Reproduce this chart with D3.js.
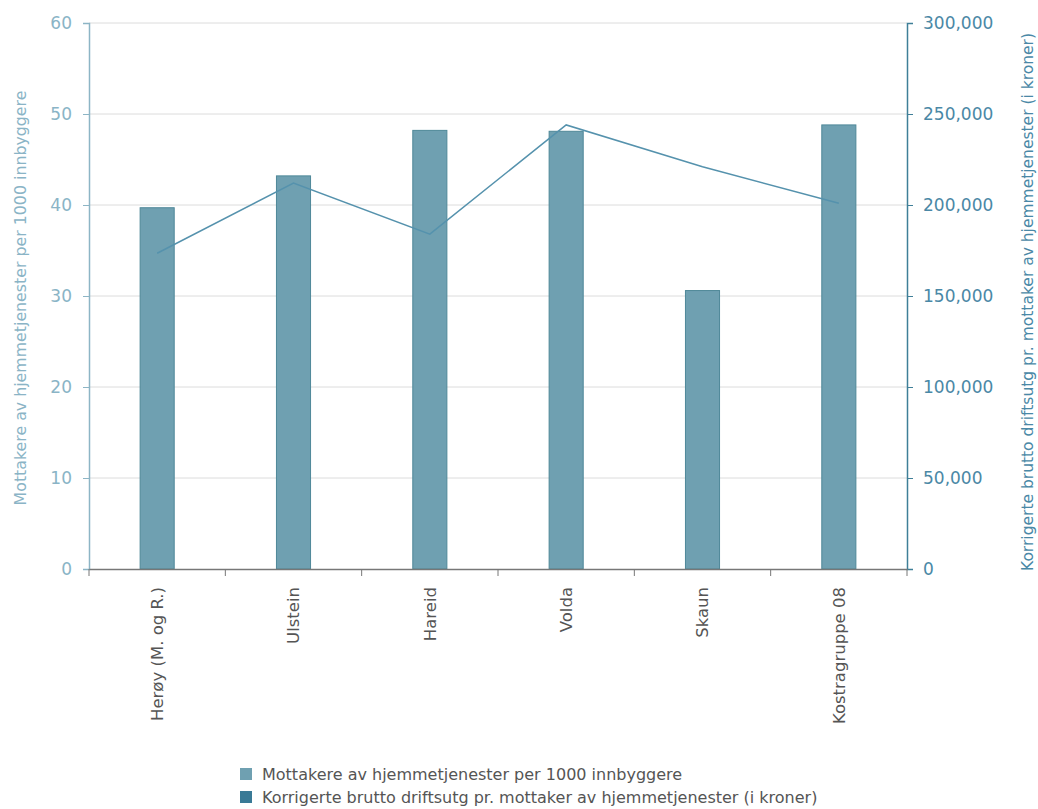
<!DOCTYPE html>
<html>
<head>
<meta charset="utf-8">
<script src="https://cdn.jsdelivr.net/npm/d3@7"></script>
<style>
  body { margin: 0; background: #fff; }
  svg { font-family: "DejaVu Sans", Verdana, sans-serif; }
</style>
</head>
<body>
<div id="chart"></div>
<script>
const categories = ['Herøy (M. og R.)', 'Ulstein', 'Hareid', 'Volda', 'Skaun', 'Kostragruppe 08'];
const mottakere = [39.7, 43.2, 48.2, 48.1, 30.6, 48.8];
const utgifter = [173500, 212000, 184000, 244000, 221000, 201000];
const leftTicks = [0, 10, 20, 30, 40, 50, 60];
const rightTicks = [0, 50000, 100000, 150000, 200000, 250000, 300000];
const seriesNames = [
  'Mottakere av hjemmetjenester per 1000 innbyggere',
  'Korrigerte brutto driftsutg pr. mottaker av hjemmetjenester (i kroner)'
];

const width = 1038, height = 809;
const margin = { left: 89, right: 131, top: 23, bottom: 240 };
const plotW = width - margin.left - margin.right;
const plotH = height - margin.top - margin.bottom;

const svg = d3.select('#chart').append('svg')
  .attr('width', width)
  .attr('height', height);

const g = svg.append('g').attr('transform', `translate(${margin.left},${margin.top})`);

const x = d3.scaleBand().domain(categories).range([0, plotW]);
const yL = d3.scaleLinear().domain([0, 60]).range([plotH, 0]);
const yR = d3.scaleLinear().domain([0, 300000]).range([plotH, 0]);

// gridlines
g.append('g').selectAll('line')
  .data(leftTicks.slice(1))
  .join('line')
    .attr('x1', 0).attr('x2', plotW)
    .attr('y1', d => yL(d)).attr('y2', d => yL(d))
    .attr('stroke', '#dcdcdc').attr('stroke-width', 1);

// bars
const barW = x.bandwidth() * 0.25;
g.append('g').selectAll('rect')
  .data(mottakere)
  .join('rect')
    .attr('x', (d, i) => x(categories[i]) + x.bandwidth() / 2 - barW / 2)
    .attr('y', d => yL(d))
    .attr('width', barW)
    .attr('height', d => plotH - yL(d))
    .attr('fill', '#6fa0b1')
    .attr('stroke', '#4f8898')
    .attr('stroke-width', 1);

// line
const line = d3.line()
  .x((d, i) => x(categories[i]) + x.bandwidth() / 2)
  .y(d => yR(d));
g.append('path')
  .datum(utgifter)
  .attr('d', line)
  .attr('fill', 'none')
  .attr('stroke', '#5592ad')
  .attr('stroke-width', 1.5);

// left axis
const leftAxis = g.append('g')
  .call(d3.axisLeft(yL).tickValues(leftTicks).tickSize(6).tickPadding(11))
  .attr('font-family', null);
leftAxis.select('.domain').attr('stroke', '#8db5c5').attr('stroke-width', 1.5);
leftAxis.selectAll('.tick line').attr('stroke', '#8db5c5');
leftAxis.selectAll('.tick text')
  .attr('fill', '#8ab4c6').style('font-size', '17px');

// right axis
const rightAxis = g.append('g')
  .attr('transform', `translate(${plotW},0)`)
  .call(d3.axisRight(yR).tickValues(rightTicks).tickSize(6).tickPadding(10).tickFormat(d3.format(',')))
  .attr('font-family', null);
rightAxis.select('.domain').attr('stroke', '#3f7f98').attr('stroke-width', 1.5);
rightAxis.selectAll('.tick line').attr('stroke', '#3f7f98');
rightAxis.selectAll('.tick text')
  .attr('fill', '#4a88a6').style('font-size', '17px');

// bottom axis
const bottomAxis = g.append('g')
  .attr('transform', `translate(0,${plotH})`)
  .call(d3.axisBottom(x).tickSize(0).tickSizeOuter(0))
  .attr('font-family', null);
bottomAxis.select('.domain').attr('stroke', '#777').attr('stroke-width', 1.5);
bottomAxis.selectAll('.tick text')
  .attr('fill', '#555')
  .style('font-size', '16.5px')
  .attr('transform', 'rotate(-90)')
  .attr('text-anchor', 'end')
  .attr('x', -18)
  .attr('y', 0)
  .attr('dy', '0.35em');
// category separator ticks
g.append('g').selectAll('line')
  .data(d3.range(categories.length + 1))
  .join('line')
    .attr('x1', i => i * x.step()).attr('x2', i => i * x.step())
    .attr('y1', plotH).attr('y2', plotH + 7)
    .attr('stroke', '#777').attr('stroke-width', 1);

// axis titles
svg.append('text')
  .attr('transform', `translate(26,${margin.top + plotH / 2 + 2}) rotate(-90)`)
  .attr('text-anchor', 'middle')
  .attr('fill', '#8ab4c6')
  .style('font-size', '15.8px')
  .text('Mottakere av hjemmetjenester per 1000 innbyggere');

svg.append('text')
  .attr('transform', `translate(1033,${margin.top + plotH / 2 + 6}) rotate(-90)`)
  .attr('text-anchor', 'middle')
  .attr('fill', '#4a88a6')
  .style('font-size', '15.5px')
  .text('Korrigerte brutto driftsutg pr. mottaker av hjemmetjenester (i kroner)');

// legend
const legendColors = ['#6fa0b1', '#3a7a96'];
const legend = svg.append('g').attr('transform', 'translate(240,768)');
seriesNames.forEach((name, i) => {
  const row = legend.append('g').attr('transform', `translate(0,${i * 23})`);
  row.append('rect').attr('width', 12).attr('height', 12).attr('fill', legendColors[i]);
  row.append('text')
    .attr('x', 22).attr('y', 6).attr('dy', '0.35em')
    .attr('fill', '#555')
    .style('font-size', '16px')
    .text(name);
});
</script>
</body>
</html>
